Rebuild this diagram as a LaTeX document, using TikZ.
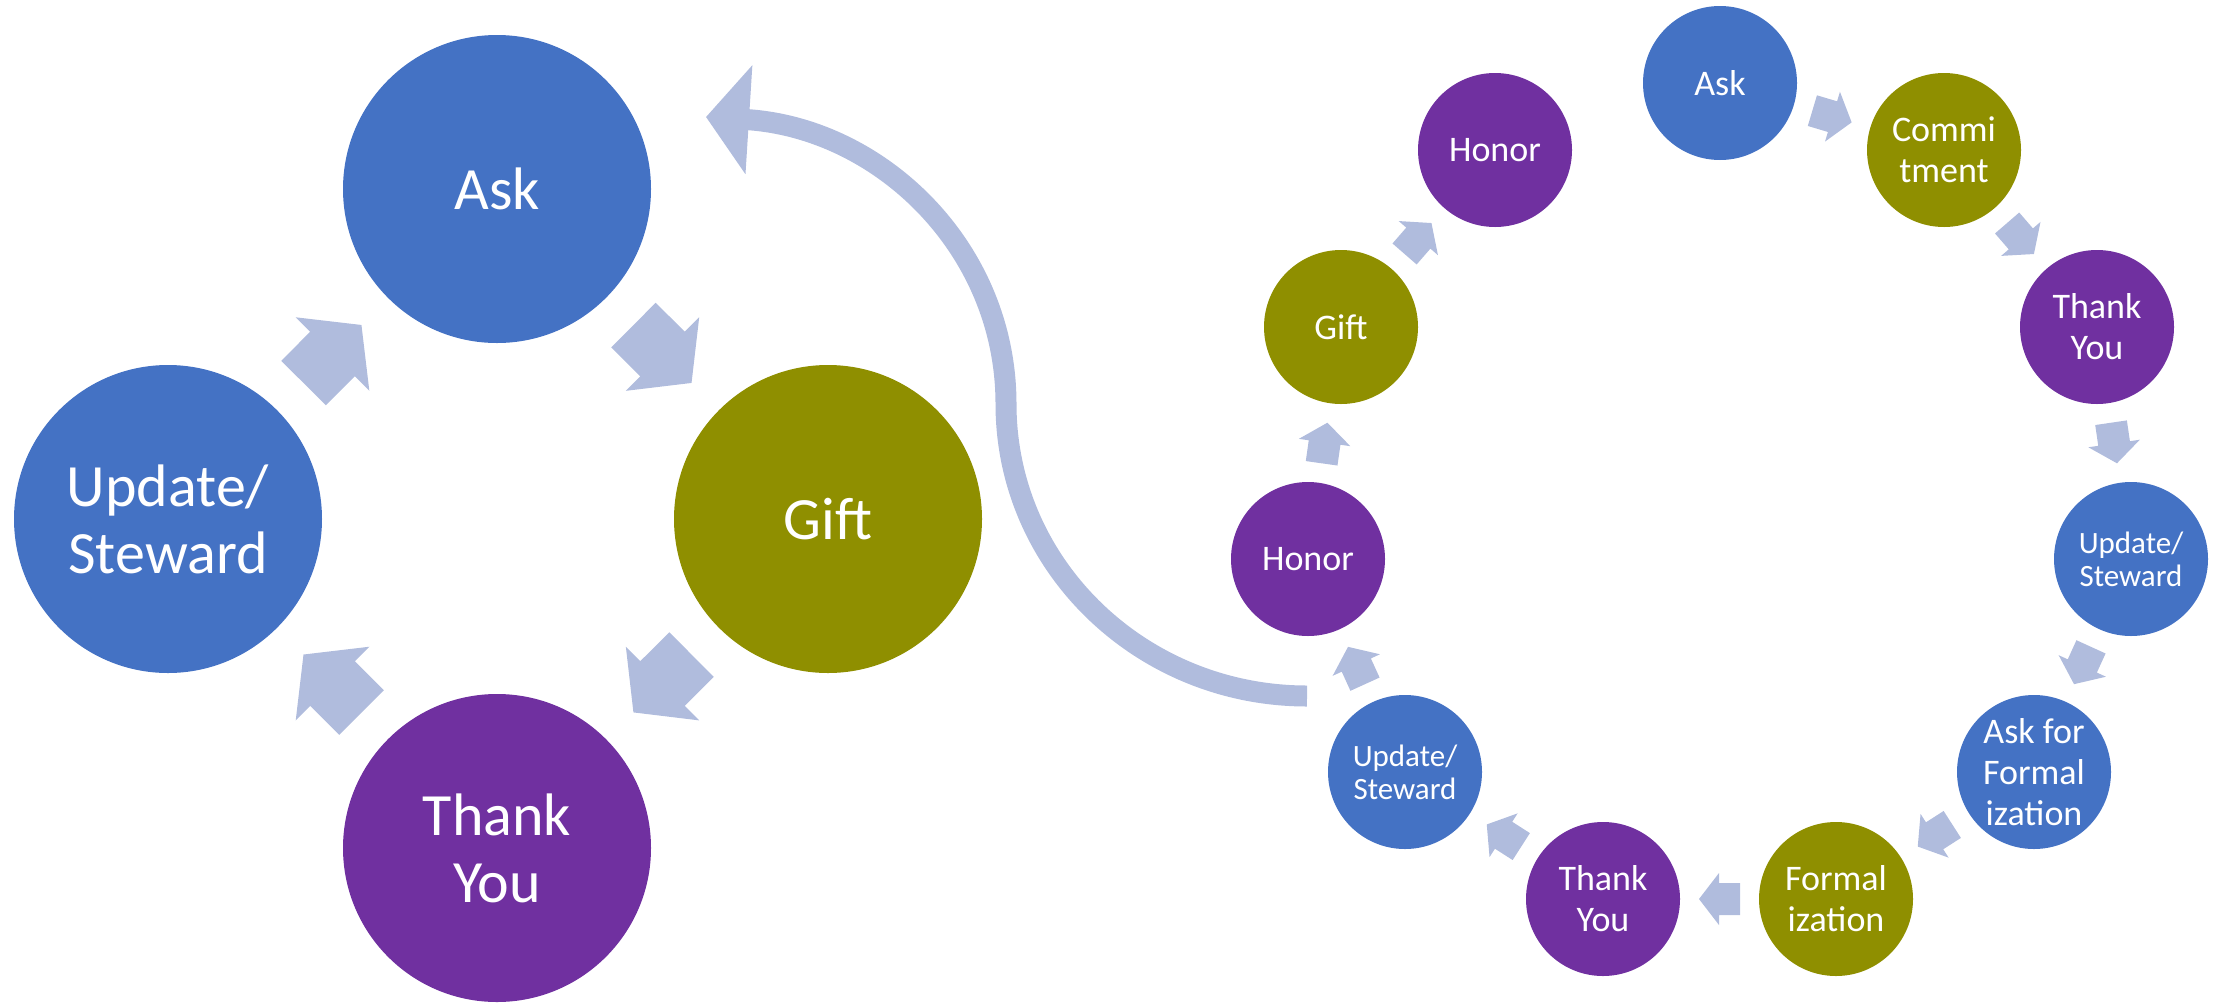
\documentclass[tikz,border=0pt]{standalone}
\usepackage{fontspec}
\setmainfont{Carlito}
\usetikzlibrary{calc,arrows.meta}
\definecolor{cblue}{HTML}{4472C4}
\definecolor{colive}{HTML}{8F8F00}
\definecolor{cpurple}{HTML}{7030A0}
\definecolor{carrow}{HTML}{B0BCDD}
\tikzset{
  bigc/.style={circle, minimum size=308pt, inner sep=0pt, draw=none},
  smallc/.style={circle, minimum size=154pt, inner sep=0pt, draw=none},
  bigtxt/.style={text=white, align=center, inner sep=0pt, font=\fontsize{60}{67}\selectfont},
  smalltxt/.style={text=white, align=center, inner sep=0pt, font=\fontsize{36}{41}\selectfont},
  tinytxt/.style={text=white, align=center, inner sep=0pt, font=\fontsize{31}{33}\selectfont},
  flowfill/.style={fill=carrow, draw=none},
  loopline/.style={draw=carrow, line width=21pt, -{Triangle[width=107pt,length=43pt]}},
}
% block arrow between two nodes: #1 from, #2 to, #3 length, #4 shaft width, #5 head width, #6 head length
\newcommand{\flowarrow}[6]{%
  \pgfmathanglebetweenpoints{\pgfpointanchor{#1}{center}}{\pgfpointanchor{#2}{center}}%
  \let\faangle\pgfmathresult
  \begin{scope}[shift={($(#1)!0.5!(#2)$)}, rotate=\faangle]
    \fill[flowfill] (-#3/2, #4/2) -- (#3/2-#6, #4/2) -- (#3/2-#6, #5/2) -- (#3/2, 0)
      -- (#3/2-#6, -#5/2) -- (#3/2-#6, -#4/2) -- (-#3/2, -#4/2) -- cycle;
  \end{scope}}
\newcommand{\bigarrow}[2]{\flowarrow{#1}{#2}{82}{63}{104}{41}}
\newcommand{\smallarrow}[2]{\flowarrow{#1}{#2}{41}{32}{52}{20}}
\begin{document}
\begin{tikzpicture}[x=1pt,y=-1pt]
\useasboundingbox (0,0) rectangle (2216,1002);
% left cycle
\node[bigc, fill=cblue]   (L1) at (497,189) {};
\node[bigc, fill=colive]  (L2) at (828,519) {};
\node[bigc, fill=cpurple] (L3) at (497,848) {};
\node[bigc, fill=cblue]   (L4) at (168,519) {};
\node[bigtxt] (L1t) at (L1) {Ask};
\node[bigtxt] (L2t) at (L2) {Gift};
\node[bigtxt] (L3t) at (L3) {Thank\\You};
\node[bigtxt] (L4t) at (L4) {Update/\\Steward};
\bigarrow{L4}{L1}
\bigarrow{L1}{L2}
\bigarrow{L2}{L3}
\bigarrow{L3}{L4}
% right cycle
\node[smallc, fill=cblue]   (R1) at (1720,83) {};
\node[smallc, fill=colive]  (R2) at (1944,150) {};
\node[smallc, fill=cpurple] (R3) at (2097,327) {};
\node[smallc, fill=cblue]   (R4) at (2131,559) {};
\node[smallc, fill=cblue]   (R5) at (2034,772) {};
\node[smallc, fill=colive]  (R6) at (1836,899) {};
\node[smallc, fill=cpurple] (R7) at (1603,899) {};
\node[smallc, fill=cblue]   (R8) at (1405,772) {};
\node[smallc, fill=cpurple] (R9) at (1308,559) {};
\node[smallc, fill=colive]  (R10) at (1341,327) {};
\node[smallc, fill=cpurple] (R11) at (1495,150) {};
\node[smalltxt] (R1t) at (R1) {Ask};
\node[smalltxt] (R2t) at (R2) {Commi\\tment};
\node[smalltxt] (R3t) at (R3) {Thank\\You};
\node[tinytxt]  (R4t) at (R4) {Update/\\Steward};
\node[smalltxt] (R5t) at (R5) {Ask for\\Formal\\ization};
\node[smalltxt] (R6t) at (R6) {Formal\\ization};
\node[smalltxt] (R7t) at (R7) {Thank\\You};
\node[tinytxt]  (R8t) at (R8) {Update/\\Steward};
\node[smalltxt] (R9t) at (R9) {Honor};
\node[smalltxt] (R10t) at (R10) {Gift};
\node[smalltxt] (R11t) at (R11) {Honor};
\smallarrow{R1}{R2}
\smallarrow{R2}{R3}
\smallarrow{R3}{R4}
\smallarrow{R4}{R5}
\smallarrow{R5}{R6}
\smallarrow{R6}{R7}
\smallarrow{R7}{R8}
\smallarrow{R8}{R9}
\smallarrow{R9}{R10}
\smallarrow{R10}{R11}
% loop back connector
\coordinate (loopstart) at (1307,696);
\coordinate (loopmid) at (1006,404);
\coordinate (loopend) at (706,117);
\draw[loopline] (loopstart) .. controls (1140.8,696) and (1006,565.3) .. (loopmid)
  .. controls (1006,247.7) and (880,128) .. (loopend);
\end{tikzpicture}
\end{document}
